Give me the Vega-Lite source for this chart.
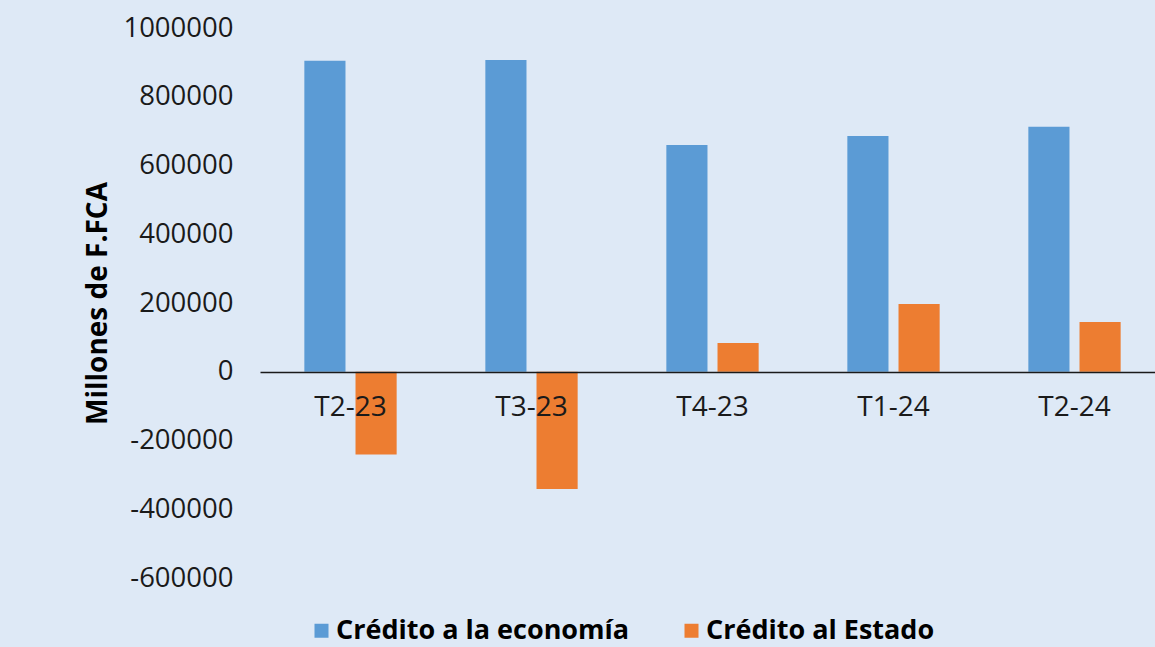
{
  "$schema": "https://vega.github.io/schema/vega-lite/v6.json",
  "width": 905,
  "height": 550,
  "autosize": {"type": "none"},
  "padding": {"left": 260, "top": 28, "right": 0, "bottom": 69},
  "background": "#DEE9F6",
  "config": {"view": {"stroke": null}, "font": "Open Sans"},
  "data": {
    "values": [
      {"trimestre": "T2-23", "serie": "Crédito a la economía", "valor": 905000},
      {"trimestre": "T2-23", "serie": "Crédito al Estado", "valor": -241000},
      {"trimestre": "T3-23", "serie": "Crédito a la economía", "valor": 907000},
      {"trimestre": "T3-23", "serie": "Crédito al Estado", "valor": -341000},
      {"trimestre": "T4-23", "serie": "Crédito a la economía", "valor": 660000},
      {"trimestre": "T4-23", "serie": "Crédito al Estado", "valor": 84000},
      {"trimestre": "T1-24", "serie": "Crédito a la economía", "valor": 686000},
      {"trimestre": "T1-24", "serie": "Crédito al Estado", "valor": 197000},
      {"trimestre": "T2-24", "serie": "Crédito a la economía", "valor": 713000},
      {"trimestre": "T2-24", "serie": "Crédito al Estado", "valor": 145000}
    ]
  },
  "mark": {"type": "bar"},
  "encoding": {
    "x": {
      "field": "trimestre",
      "type": "nominal",
      "sort": ["T2-23", "T3-23", "T4-23", "T1-24", "T2-24"],
      "scale": {"paddingInner": 0.49, "paddingOuter": 0.245},
      "axis": {
        "title": null,
        "offset": -206,
        "labelAngle": 0,
        "labelFontSize": 28,
        "labelColor": "#1a1a1a",
        "ticks": false,
        "domainColor": "#1a1a1a",
        "domainWidth": 1.5,
        "labelPadding": 21,
        "labelLimit": 0,
        "zindex": 1
      }
    },
    "xOffset": {
      "field": "serie",
      "sort": ["Crédito a la economía", "Crédito al Estado"],
      "scale": {"paddingInner": 0.196, "paddingOuter": 0}
    },
    "y": {
      "field": "valor",
      "type": "quantitative",
      "scale": {"domain": [-600000, 1000000], "nice": false, "zero": false},
      "axis": {
        "title": "Millones de F.FCA",
        "values": [-600000, -400000, -200000, 0, 200000, 400000, 600000, 800000, 1000000],
        "grid": false,
        "domain": false,
        "ticks": false,
        "labelFontSize": 27.5,
        "labelColor": "#1a1a1a",
        "labelPadding": 27,
        "labelLimit": 0,
        "labelExpr": "'' + datum.value",
        "titleFontSize": 28,
        "titleFontWeight": "bold",
        "titleColor": "#000000",
        "titlePadding": 10
      }
    },
    "color": {
      "field": "serie",
      "type": "nominal",
      "sort": ["Crédito a la economía", "Crédito al Estado"],
      "scale": {"domain": ["Crédito a la economía", "Crédito al Estado"], "range": ["#5B9BD5", "#ED7D31"]},
      "legend": {
        "title": null,
        "orient": "none",
        "direction": "horizontal",
        "legendX": 48,
        "legendY": 589,
        "symbolType": "square",
        "symbolSize": 196,
        "symbolStrokeWidth": 0,
        "labelFontSize": 27,
        "labelFontWeight": "bold",
        "labelColor": "#000000",
        "labelOffset": 1,
        "labelLimit": 0,
        "columnPadding": 48
      }
    }
  }
}
